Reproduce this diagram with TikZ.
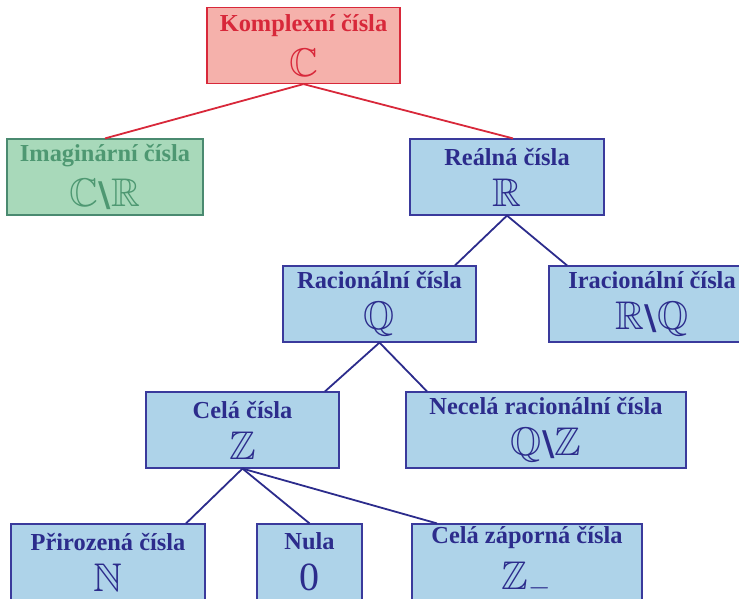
\documentclass[tikz,border=0pt]{standalone}
\usepackage{fontspec}
\usepackage{amssymb}
\setmainfont{Liberation Serif}
\newfontfamily\tlusty{DejaVu Sans}
\usetikzlibrary{positioning}

\definecolor{cervena}{HTML}{D8283A}
\definecolor{ruzova}{HTML}{F5B1AB}
\definecolor{zelena}{HTML}{4E9872}
\definecolor{zelenaokraj}{HTML}{4A8A70}
\definecolor{zelenavypln}{HTML}{A8D9BA}
\definecolor{modra}{HTML}{2C2C8C}
\definecolor{modraokraj}{HTML}{3A3A9C}
\definecolor{modravypln}{HTML}{AED3E9}

\newcommand{\znak}[1]{{\fontsize{20}{22}\selectfont$#1$}}
\newcommand{\lomitko}{{\fontsize{17}{22}\selectfont\tlusty\bfseries\textbackslash}}

\tikzset{
  mnozina/.style={draw, rectangle, line width=0.6pt, minimum height=38pt,
    inner sep=0pt, align=center, font=\fontsize{12.2}{15}\selectfont\bfseries},
  komplexni/.style={mnozina, fill=ruzova, draw=cervena, text=cervena},
  imaginarni/.style={mnozina, fill=zelenavypln, draw=zelenaokraj, text=zelena},
  realna/.style={mnozina, fill=modravypln, draw=modraokraj, text=modra},
  cara/.style={line width=0.9pt}
}

\begin{document}
\begin{tikzpicture}[x=0.5pt, y=-0.5pt]
	\useasboundingbox (0,0) rectangle (739,599);

	% uzly
	\node[komplexni, minimum width=96.5pt] (C) at (303.5,45.5)
	  {Komplexní čísla\\[5.5pt]\znak{\mathbb{C}}};
	\node[imaginarni, minimum width=98pt] (I) at (105,177)
	  {Imaginární čísla\\[5.5pt]\znak{\mathbb{C}}\lomitko\znak{\mathbb{R}}};
	\node[realna, minimum width=97pt] (R) at (507,177)
	  {Reálná čísla\\[5.5pt]\znak{\mathbb{R}}};
	\node[realna, minimum width=96.5pt] (Q) at (379.5,304)
	  {Racionální čísla\\[5.5pt]\znak{\mathbb{Q}}};
	\node[realna, minimum width=103pt] (RQ) at (652,304)
	  {Iracionální čísla\\[5.5pt]\znak{\mathbb{R}}\lomitko\znak{\mathbb{Q}}};
	\node[realna, minimum width=96.5pt] (Z) at (242.5,430)
	  {Celá čísla\\[5.5pt]\znak{\mathbb{Z}}};
	\node[realna, minimum width=140pt] (QZ) at (546,430)
	  {Necelá racionální čísla\\[5.5pt]\znak{\mathbb{Q}}\lomitko\znak{\mathbb{Z}}};
	\node[realna, minimum width=97pt] (N) at (108,562)
	  {Přirozená čísla\\[5.5pt]\znak{\mathbb{N}}};
	\node[realna, minimum width=52.5pt] (nula) at (309.5,562)
	  {Nula\\[5.5pt]{\fontsize{20}{22}\selectfont\mdseries 0}};
	\node[realna, minimum width=115pt] (Zm) at (527,562)
	  {Celá záporná čísla\\[5.5pt]\znak{\mathbb{Z}_{-}}};

	% spojnice
	\draw[cara, cervena] (C.south) -- (I.north);
	\draw[cara, cervena] (C.south) -- ([xshift=3pt]R.north);
	\draw[cara, modra] (R.south) -- ([xshift=37.75pt]Q.north);
	\draw[cara, modra] (R.south) -- ([xshift=-42.5pt]RQ.north);
	\draw[cara, modra] (Q.south) -- ([xshift=41.25pt]Z.north);
	\draw[cara, modra] (Q.south) -- ([xshift=-59.5pt]QZ.north);
	\draw[cara, modra] (Z.south) -- ([xshift=39pt]N.north);
	\draw[cara, modra] (Z.south) -- (nula.north);
	\draw[cara, modra] (Z.south) -- ([xshift=-45pt]Zm.north);
\end{tikzpicture}
\end{document}
